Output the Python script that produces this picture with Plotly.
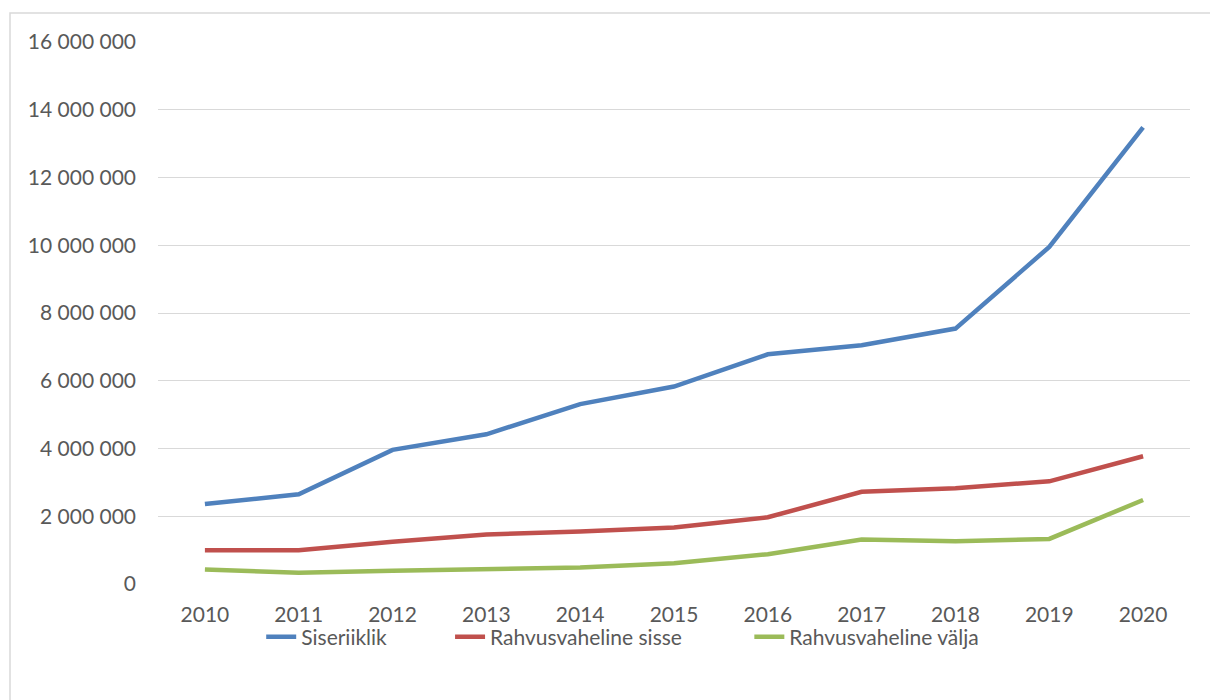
import plotly.graph_objects as go

years = ["2010", "2011", "2012", "2013", "2014", "2015", "2016", "2017", "2018", "2019", "2020"]
siseriiklik = [2360000, 2650000, 3960000, 4420000, 5310000, 5830000, 6780000, 7050000, 7540000, 9950000, 13480000]
sisse = [1000000, 1000000, 1250000, 1460000, 1550000, 1670000, 1970000, 2720000, 2830000, 3030000, 3770000]
valja = [430000, 330000, 390000, 450000, 490000, 610000, 880000, 1310000, 1260000, 1330000, 2480000]

series_names = ["Siseriiklik", "Rahvusvaheline sisse", "Rahvusvaheline välja"]
colors = ["#4F81BD", "#C0504D", "#9BBB59"]
y_ticks = [0, 2000000, 4000000, 6000000, 8000000, 10000000, 12000000, 14000000, 16000000]

FS = 21
fig = go.Figure()
legend_ids = ["legend", "legend2", "legend3"]
for name, vals, col, lg in zip(series_names, [siseriiklik, sisse, valja], colors, legend_ids):
    fig.add_trace(go.Scatter(x=years, y=vals, name=name, mode="lines", legend=lg,
                             line=dict(color=col, width=4.5)))

def leg(x):
    return dict(orientation="h", x=x, xanchor="left", y=-0.0978, yanchor="middle",
                font=dict(size=FS, color="#595959"), bgcolor="rgba(0,0,0,0)")

fig.update_layout(
    width=1210, height=692,
    paper_bgcolor="white", plot_bgcolor="white",
    margin=dict(l=150, r=28, t=34, b=116),
    separators=", ",
    font=dict(family="Lato, Calibri, sans-serif", size=FS, color="#595959"),
    showlegend=True,
    legend=leg(0.100), legend2=leg(0.283), legend3=leg(0.573),
    xaxis=dict(type="category", range=[-0.5, 10.5], showgrid=False, showline=False, zeroline=False,
               ticks="", ticklabelstandoff=16, tickfont=dict(size=FS, color="#595959")),
    yaxis=dict(range=[0, 16000000], tickvals=y_ticks, tickformat=",d",
               showgrid=True, gridcolor="#d9d9d9", gridwidth=1.3, zeroline=False,
               showline=False, ticks="", ticklabelstandoff=21,
               tickfont=dict(size=FS, color="#595959")),
    shapes=[dict(type="rect", xref="paper", yref="paper",
                 x0=-148/1032, x1=1+60/1032, y0=-200/542, y1=1+29/542,
                 line=dict(color="#d9d9d9", width=1.5), fillcolor="rgba(0,0,0,0)")],
)

fig.write_html("out.html")
